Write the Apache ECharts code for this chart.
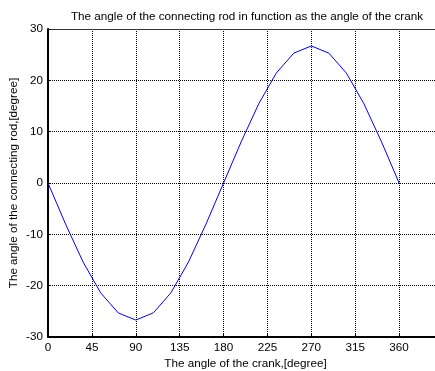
<!DOCTYPE html>
<html>
<head>
<meta charset="utf-8">
<script src="https://cdn.jsdelivr.net/npm/echarts@6/dist/echarts.min.js"></script>
<style>
  html, body { margin: 0; padding: 0; background: #fff; }
  #chart { width: 435px; height: 371px; }
</style>
</head>
<body>
<div id="chart"></div>
<script>
// crank angle (degree) and connecting rod angle (degree)
var crankAngle = [0, 18, 36, 54, 72, 90, 108, 126, 144, 162, 180, 198, 216, 234, 252, 270, 288, 306, 324, 342, 360]
var rodAngle = [0, -8, -15.4, -21.4, -25.3, -26.7, -25.3, -21.4, -15.4, -8, 0, 8, 15.4, 21.4, 25.3, 26.7, 25.3, 21.4, 15.4, 8, 0]
var titleText = 'The angle of the connecting rod in function as the angle of the crank'
var xName = 'The angle of the crank,[degree]'
var yName = 'The angle of the connecting rod,[degree]'

var font = 'Liberation Sans, Arial, sans-serif'
var fs = 11.7
var points = crankAngle.map(function (x, i) { return [x, rodAngle[i]] })

var myChart = echarts.init(document.getElementById('chart'))
myChart.setOption({
  animation: false,
  backgroundColor: '#fff',
  title: {
    text: titleText,
    left: 242,
    top: 6,
    textAlign: 'center',
    textStyle: { fontFamily: font, fontSize: fs, fontWeight: 'normal', color: '#000' }
  },
  // box runs past the right edge of the picture, like the cropped original
  grid: { left: 48, right: -8, top: 29, bottom: 34, containLabel: false, outerBoundsMode: 'none' },
  xAxis: [
    {
      type: 'value',
      min: 0,
      max: 405,
      interval: 45,
      name: xName,
      nameLocation: 'middle',
      nameGap: 21,
      nameMoveOverlap: false,
      nameTextStyle: { fontFamily: font, fontSize: fs, color: '#000' },
      axisLine: { onZero: false, lineStyle: { color: '#000', width: 2 } },
      axisTick: { inside: true, length: 3, lineStyle: { color: '#000' } },
      axisLabel: { margin: 5, fontFamily: font, fontSize: fs, color: '#000', showMaxLabel: false },
      splitLine: { show: true, lineStyle: { color: '#000', width: 1, type: [1, 1] } }
    },
    {
      // top border of the box
      type: 'value',
      position: 'top',
      min: 0,
      max: 405,
      axisLine: { show: true, onZero: false, lineStyle: { color: '#333', width: 1 } },
      axisTick: { show: false },
      axisLabel: { show: false },
      splitLine: { show: false }
    }
  ],
  yAxis: {
    type: 'value',
    min: -30,
    max: 30,
    interval: 10,
    name: yName,
    nameLocation: 'middle',
    nameGap: 28,
    nameMoveOverlap: false,
    nameTextStyle: { fontFamily: font, fontSize: fs, color: '#000' },
    axisLine: { show: true, onZero: false, lineStyle: { color: '#000', width: 2 } },
    axisTick: { show: true, inside: true, length: 3, lineStyle: { color: '#000' } },
    axisLabel: { margin: 5, fontFamily: font, fontSize: fs, color: '#000' },
    splitLine: { show: true, lineStyle: { color: '#000', width: 1, type: [1, 1] } }
  },
  series: [
    {
      type: 'line',
      data: points,
      showSymbol: false,
      smooth: false,
      lineStyle: { color: '#0000ff', width: 1 },
      itemStyle: { color: '#0000ff' }
    }
  ]
})
</script>
</body>
</html>
